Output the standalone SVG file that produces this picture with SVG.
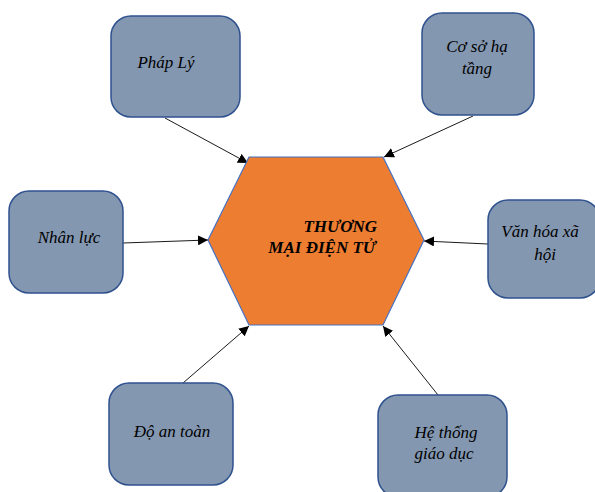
<svg xmlns="http://www.w3.org/2000/svg" width="595" height="492" viewBox="0 0 595 492">
<style>
.box{fill:#8497B0;stroke:#2F528F;stroke-width:1.5}
.t{font-style:italic;font-size:17px;fill:#000}
.c{stroke:#000;stroke-width:0.9;fill:none;marker-end:url(#ah)}
</style>
<defs>
<marker id="ah" viewBox="0 0 10 10" refX="10" refY="5" markerWidth="10" markerHeight="10" markerUnits="userSpaceOnUse" orient="auto">
<path d="M0,0 L10,5 L0,10 z" fill="#000"/>
</marker>
</defs>
<rect width="595" height="492" fill="#fff"/>
<g id="connectors">
<line class="c" x1="165" y1="118" x2="248" y2="163"/>
<line class="c" x1="473" y1="116" x2="384" y2="157"/>
<line class="c" x1="123" y1="243" x2="208" y2="240"/>
<line class="c" x1="488" y1="244" x2="424" y2="241"/>
<line class="c" x1="183" y1="383" x2="249" y2="326"/>
<line class="c" x1="438" y1="395" x2="383" y2="326"/>
</g>
<g font-family="'Liberation Serif', 'DejaVu Serif', serif">
<g id="center">
<polygon points="249,157 383,157 424,240 383,325 249,325 208,240" fill="#ED7D31" stroke="#4472C4" stroke-width="1.2"/>
<text class="t" font-weight="bold" text-anchor="end"><tspan x="377" y="232">THƯƠNG</tspan><tspan x="376" y="253">MẠI ĐIỆN TỬ</tspan></text>
</g>
<g id="phaply">
<rect class="box" x="111" y="16" width="129" height="101" rx="20"/>
<text class="t" x="166" y="68" text-anchor="middle">Pháp Lý</text>
</g>
<g id="cosohatang">
<rect class="box" x="422" y="13" width="112" height="102" rx="20"/>
<text class="t" text-anchor="middle"><tspan x="477" y="52">Cơ sở hạ</tspan><tspan x="477" y="74">tầng</tspan></text>
</g>
<g id="nhanluc">
<rect class="box" x="9" y="191" width="114" height="102" rx="20"/>
<text class="t" x="69" y="243" text-anchor="middle">Nhân lực</text>
</g>
<g id="vanhoa">
<rect class="box" x="488" y="200" width="112" height="98" rx="20"/>
<text class="t" text-anchor="middle"><tspan x="540" y="237">Văn hóa xã</tspan><tspan x="545" y="260">hội</tspan></text>
</g>
<g id="doantoan">
<rect class="box" x="109" y="383" width="124" height="102" rx="20"/>
<text class="t" x="172" y="437" text-anchor="middle">Độ an toàn</text>
</g>
<g id="hethong">
<rect class="box" x="378" y="395" width="129" height="102" rx="20"/>
<text class="t" text-anchor="middle"><tspan x="446" y="438">Hệ thống</tspan><tspan x="444" y="459">giáo dục</tspan></text>
</g>
</g>
</svg>
